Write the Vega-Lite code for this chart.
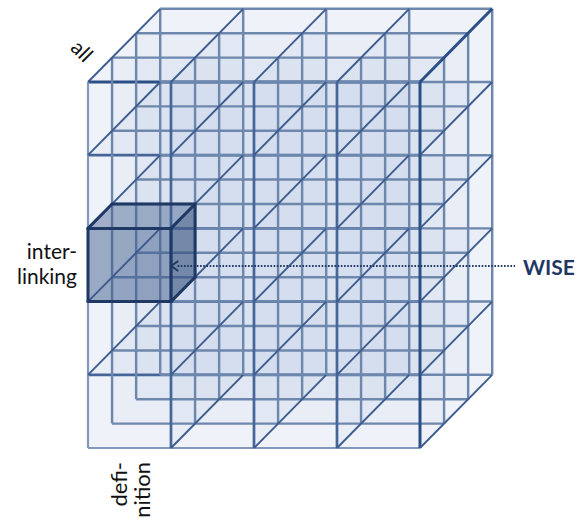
{
  "$schema": "https://vega.github.io/schema/vega-lite/v6.json",
  "width": 577,
  "height": 518,
  "autosize": {"type": "none"},
  "padding": 0,
  "background": "white",
  "config": {"view": {"stroke": null}},
  "datasets": {
    "planesXY": [
      {"p": "k0", "x": 0, "x2": 4, "y": 0, "y2": 5},
      {"p": "k1", "x": 0.29, "x2": 4.29, "y": 0.333, "y2": 5.333},
      {"p": "k2", "x": 0.58, "x2": 4.58, "y": 0.667, "y2": 5.667},
      {"p": "k3", "x": 0.87, "x2": 4.87, "y": 1, "y2": 6}
    ],
    "planesYZ": [
      {"p": "i0", "x": 0, "y": 0, "y2": 5}, {"p": "i0", "x": 0.87, "y": 1, "y2": 6},
      {"p": "i1", "x": 1, "y": 0, "y2": 5}, {"p": "i1", "x": 1.87, "y": 1, "y2": 6},
      {"p": "i2", "x": 2, "y": 0, "y2": 5}, {"p": "i2", "x": 2.87, "y": 1, "y2": 6},
      {"p": "i3", "x": 3, "y": 0, "y2": 5}, {"p": "i3", "x": 3.87, "y": 1, "y2": 6},
      {"p": "i4", "x": 4, "y": 0, "y2": 5}, {"p": "i4", "x": 4.87, "y": 1, "y2": 6}
    ],
    "planesXZ": [
      {"p": "j0", "y": 0, "x": 0, "x2": 4}, {"p": "j0", "y": 1, "x": 0.87, "x2": 4.87},
      {"p": "j1", "y": 1, "x": 0, "x2": 4}, {"p": "j1", "y": 2, "x": 0.87, "x2": 4.87},
      {"p": "j2", "y": 2, "x": 0, "x2": 4}, {"p": "j2", "y": 3, "x": 0.87, "x2": 4.87},
      {"p": "j3", "y": 3, "x": 0, "x2": 4}, {"p": "j3", "y": 4, "x": 0.87, "x2": 4.87},
      {"p": "j4", "y": 4, "x": 0, "x2": 4}, {"p": "j4", "y": 5, "x": 0.87, "x2": 4.87},
      {"p": "j5", "y": 5, "x": 0, "x2": 4}, {"p": "j5", "y": 6, "x": 0.87, "x2": 4.87}
    ],
    "lines": [
      {"x": 0, "x2": 4, "y": 0, "y2": 0, "kind": "light"},
      {"x": 0, "x2": 4, "y": 1, "y2": 1, "kind": "front"},
      {"x": 0, "x2": 4, "y": 2, "y2": 2, "kind": "front"},
      {"x": 0, "x2": 4, "y": 3, "y2": 3, "kind": "front"},
      {"x": 0, "x2": 4, "y": 4, "y2": 4, "kind": "front"},
      {"x": 0, "x2": 4, "y": 5, "y2": 5, "kind": "strong"},
      {"x": 0.29, "x2": 4.29, "y": 0.333, "y2": 0.333, "kind": "back"},
      {"x": 0.29, "x2": 4.29, "y": 1.333, "y2": 1.333, "kind": "back"},
      {"x": 0.29, "x2": 4.29, "y": 2.333, "y2": 2.333, "kind": "back"},
      {"x": 0.29, "x2": 4.29, "y": 3.333, "y2": 3.333, "kind": "back"},
      {"x": 0.29, "x2": 4.29, "y": 4.333, "y2": 4.333, "kind": "back"},
      {"x": 0.29, "x2": 4.29, "y": 5.333, "y2": 5.333, "kind": "back"},
      {"x": 0.58, "x2": 4.58, "y": 0.667, "y2": 0.667, "kind": "back"},
      {"x": 0.58, "x2": 4.58, "y": 1.667, "y2": 1.667, "kind": "back"},
      {"x": 0.58, "x2": 4.58, "y": 2.667, "y2": 2.667, "kind": "back"},
      {"x": 0.58, "x2": 4.58, "y": 3.667, "y2": 3.667, "kind": "back"},
      {"x": 0.58, "x2": 4.58, "y": 4.667, "y2": 4.667, "kind": "back"},
      {"x": 0.58, "x2": 4.58, "y": 5.667, "y2": 5.667, "kind": "back"},
      {"x": 0.87, "x2": 4.87, "y": 1, "y2": 1, "kind": "back"},
      {"x": 0.87, "x2": 4.87, "y": 2, "y2": 2, "kind": "back"},
      {"x": 0.87, "x2": 4.87, "y": 3, "y2": 3, "kind": "back"},
      {"x": 0.87, "x2": 4.87, "y": 4, "y2": 4, "kind": "back"},
      {"x": 0.87, "x2": 4.87, "y": 5, "y2": 5, "kind": "back"},
      {"x": 0.87, "x2": 4.87, "y": 6, "y2": 6, "kind": "back"},
      {"x": 0, "x2": 0, "y": 0, "y2": 5, "kind": "light"},
      {"x": 1, "x2": 1, "y": 0, "y2": 5, "kind": "front"},
      {"x": 2, "x2": 2, "y": 0, "y2": 5, "kind": "front"},
      {"x": 3, "x2": 3, "y": 0, "y2": 5, "kind": "front"},
      {"x": 4, "x2": 4, "y": 0, "y2": 5, "kind": "strong"},
      {"x": 0.29, "x2": 0.29, "y": 0.333, "y2": 5.333, "kind": "back"},
      {"x": 1.29, "x2": 1.29, "y": 0.333, "y2": 5.333, "kind": "back"},
      {"x": 2.29, "x2": 2.29, "y": 0.333, "y2": 5.333, "kind": "back"},
      {"x": 3.29, "x2": 3.29, "y": 0.333, "y2": 5.333, "kind": "back"},
      {"x": 4.29, "x2": 4.29, "y": 0.333, "y2": 5.333, "kind": "back"},
      {"x": 0.58, "x2": 0.58, "y": 0.667, "y2": 5.667, "kind": "back"},
      {"x": 1.58, "x2": 1.58, "y": 0.667, "y2": 5.667, "kind": "back"},
      {"x": 2.58, "x2": 2.58, "y": 0.667, "y2": 5.667, "kind": "back"},
      {"x": 3.58, "x2": 3.58, "y": 0.667, "y2": 5.667, "kind": "back"},
      {"x": 4.58, "x2": 4.58, "y": 0.667, "y2": 5.667, "kind": "back"},
      {"x": 0.87, "x2": 0.87, "y": 1, "y2": 6, "kind": "back"},
      {"x": 1.87, "x2": 1.87, "y": 1, "y2": 6, "kind": "back"},
      {"x": 2.87, "x2": 2.87, "y": 1, "y2": 6, "kind": "back"},
      {"x": 3.87, "x2": 3.87, "y": 1, "y2": 6, "kind": "back"},
      {"x": 4.87, "x2": 4.87, "y": 1, "y2": 6, "kind": "back"},
      {"x": 0, "x2": 0.87, "y": 1, "y2": 2, "kind": "depth"},
      {"x": 0, "x2": 0.87, "y": 2, "y2": 3, "kind": "depth"},
      {"x": 0, "x2": 0.87, "y": 3, "y2": 4, "kind": "depth"},
      {"x": 0, "x2": 0.87, "y": 4, "y2": 5, "kind": "depth"},
      {"x": 0, "x2": 0.87, "y": 5, "y2": 6, "kind": "depth"},
      {"x": 1, "x2": 1.87, "y": 0, "y2": 1, "kind": "depth"},
      {"x": 1, "x2": 1.87, "y": 1, "y2": 2, "kind": "depth"},
      {"x": 1, "x2": 1.87, "y": 2, "y2": 3, "kind": "depth"},
      {"x": 1, "x2": 1.87, "y": 3, "y2": 4, "kind": "depth"},
      {"x": 1, "x2": 1.87, "y": 4, "y2": 5, "kind": "depth"},
      {"x": 1, "x2": 1.87, "y": 5, "y2": 6, "kind": "depth"},
      {"x": 2, "x2": 2.87, "y": 0, "y2": 1, "kind": "depth"},
      {"x": 2, "x2": 2.87, "y": 1, "y2": 2, "kind": "depth"},
      {"x": 2, "x2": 2.87, "y": 2, "y2": 3, "kind": "depth"},
      {"x": 2, "x2": 2.87, "y": 3, "y2": 4, "kind": "depth"},
      {"x": 2, "x2": 2.87, "y": 4, "y2": 5, "kind": "depth"},
      {"x": 2, "x2": 2.87, "y": 5, "y2": 6, "kind": "depth"},
      {"x": 3, "x2": 3.87, "y": 0, "y2": 1, "kind": "depth"},
      {"x": 3, "x2": 3.87, "y": 1, "y2": 2, "kind": "depth"},
      {"x": 3, "x2": 3.87, "y": 2, "y2": 3, "kind": "depth"},
      {"x": 3, "x2": 3.87, "y": 3, "y2": 4, "kind": "depth"},
      {"x": 3, "x2": 3.87, "y": 4, "y2": 5, "kind": "depth"},
      {"x": 3, "x2": 3.87, "y": 5, "y2": 6, "kind": "depth"},
      {"x": 4, "x2": 4.87, "y": 0, "y2": 1, "kind": "depth"},
      {"x": 4, "x2": 4.87, "y": 1, "y2": 2, "kind": "depth"},
      {"x": 4, "x2": 4.87, "y": 2, "y2": 3, "kind": "depth"},
      {"x": 4, "x2": 4.87, "y": 3, "y2": 4, "kind": "depth"},
      {"x": 4, "x2": 4.87, "y": 4, "y2": 5, "kind": "depth"},
      {"x": 4, "x2": 4.87, "y": 5, "y2": 6, "kind": "strong"}
    ],
    "cubeFront": [{"x": 0, "x2": 1, "y": 2, "y2": 3}],
    "cubeTop": [{"y": 3, "x": 0, "x2": 1}, {"y": 3.333, "x": 0.29, "x2": 1.29}],
    "cubeRight": [{"x": 1, "y": 2, "y2": 3}, {"x": 1.29, "y": 2.333, "y2": 3.333}],
    "cubeEdges": [
      {"x": 0, "x2": 1, "y": 2, "y2": 2},
      {"x": 1, "x2": 1, "y": 2, "y2": 3},
      {"x": 0, "x2": 1, "y": 3, "y2": 3},
      {"x": 0, "x2": 0, "y": 2, "y2": 3},
      {"x": 0, "x2": 0.29, "y": 3, "y2": 3.333},
      {"x": 1, "x2": 1.29, "y": 3, "y2": 3.333},
      {"x": 1, "x2": 1.29, "y": 2, "y2": 2.333},
      {"x": 0.29, "x2": 1.29, "y": 3.333, "y2": 3.333},
      {"x": 1.29, "x2": 1.29, "y": 2.333, "y2": 3.333}
    ],
    "arrowLine": [{"x": 1.08, "x2": 5.145, "y": 2.486, "y2": 2.486}],
    "arrowHead": [{"x": 1.045, "y": 2.486}],
    "labelsH": [
      {"t": "inter-", "x": -0.1325, "y": 2.582},
      {"t": "linking", "x": -0.1325, "y": 2.24}
    ],
    "labelAll": [{"t": "all", "x": -0.084, "y": 5.41}],
    "labelsV": [
      {"t": "defi-", "x": 0.47, "y": -0.191},
      {"t": "nition", "x": 0.747, "y": -0.191}
    ],
    "labelWise": [{"t": "WISE", "x": 5.867, "y": 2.363}]
  },
  "layer": [
    {
      "data": {"name": "planesXY"},
      "mark": {"type": "rect", "fill": "#8aa1cc", "fillOpacity": 0.065, "strokeWidth": 0},
      "encoding": {
        "x": {"field": "x", "type": "quantitative", "scale": {"domain": [-1.0602, 5.8916], "nice": false, "zero": false}, "axis": null},
        "x2": {"field": "x2"},
        "y": {"field": "y", "type": "quantitative", "scale": {"domain": [-0.9563, 6.1202], "nice": false, "zero": false}, "axis": null},
        "y2": {"field": "y2"}
      }
    },
    {
      "data": {"name": "planesYZ"},
      "mark": {"type": "area", "fill": "#8aa1cc", "fillOpacity": 0.065, "orient": "vertical"},
      "encoding": {
        "x": {"field": "x", "type": "quantitative", "scale": {"domain": [-1.0602, 5.8916], "nice": false, "zero": false}, "axis": null},
        "y": {"field": "y", "type": "quantitative", "scale": {"domain": [-0.9563, 6.1202], "nice": false, "zero": false}, "axis": null},
        "y2": {"field": "y2"},
        "detail": {"field": "p", "type": "nominal"}
      }
    },
    {
      "data": {"name": "planesXZ"},
      "mark": {"type": "area", "fill": "#8aa1cc", "fillOpacity": 0.065, "orient": "horizontal"},
      "encoding": {
        "y": {"field": "y", "type": "quantitative", "scale": {"domain": [-0.9563, 6.1202], "nice": false, "zero": false}, "axis": null},
        "x": {"field": "x", "type": "quantitative", "scale": {"domain": [-1.0602, 5.8916], "nice": false, "zero": false}, "axis": null},
        "x2": {"field": "x2"},
        "detail": {"field": "p", "type": "nominal"}
      }
    },
    {
      "data": {"name": "lines"},
      "mark": {"type": "rule", "strokeCap": "butt"},
      "encoding": {
        "x": {"field": "x", "type": "quantitative", "scale": {"domain": [-1.0602, 5.8916], "nice": false, "zero": false}, "axis": null},
        "x2": {"field": "x2"},
        "y": {"field": "y", "type": "quantitative", "scale": {"domain": [-0.9563, 6.1202], "nice": false, "zero": false}, "axis": null},
        "y2": {"field": "y2"},
        "color": {"field": "kind", "type": "nominal", "scale": {"domain": ["strong", "front", "back", "light", "depth"], "range": ["#2a4e86", "#46669a", "#6e87ad", "#8297b9", "#3d5c8e"]}, "legend": null},
        "size": {"field": "kind", "type": "ordinal", "scale": {"domain": ["strong", "front", "back", "light", "depth"], "range": [3, 1.9, 1.5, 1.5, 1]}, "legend": null}
      }
    },
    {
      "data": {"name": "cubeFront"},
      "mark": {"type": "rect", "fill": "#3d5a8a", "fillOpacity": 0.48, "strokeWidth": 0},
      "encoding": {
        "x": {"field": "x", "type": "quantitative", "scale": {"domain": [-1.0602, 5.8916], "nice": false, "zero": false}, "axis": null},
        "x2": {"field": "x2"},
        "y": {"field": "y", "type": "quantitative", "scale": {"domain": [-0.9563, 6.1202], "nice": false, "zero": false}, "axis": null},
        "y2": {"field": "y2"}
      }
    },
    {
      "data": {"name": "cubeTop"},
      "mark": {"type": "area", "fill": "#3d5a8a", "fillOpacity": 0.42, "orient": "horizontal"},
      "encoding": {
        "y": {"field": "y", "type": "quantitative", "scale": {"domain": [-0.9563, 6.1202], "nice": false, "zero": false}, "axis": null},
        "x": {"field": "x", "type": "quantitative", "scale": {"domain": [-1.0602, 5.8916], "nice": false, "zero": false}, "axis": null},
        "x2": {"field": "x2"}
      }
    },
    {
      "data": {"name": "cubeRight"},
      "mark": {"type": "area", "fill": "#2f4a78", "fillOpacity": 0.58, "orient": "vertical"},
      "encoding": {
        "x": {"field": "x", "type": "quantitative", "scale": {"domain": [-1.0602, 5.8916], "nice": false, "zero": false}, "axis": null},
        "y": {"field": "y", "type": "quantitative", "scale": {"domain": [-0.9563, 6.1202], "nice": false, "zero": false}, "axis": null},
        "y2": {"field": "y2"}
      }
    },
    {
      "data": {"name": "cubeEdges"},
      "mark": {"type": "rule", "color": "#1f3864", "strokeWidth": 3, "strokeCap": "round"},
      "encoding": {
        "x": {"field": "x", "type": "quantitative", "scale": {"domain": [-1.0602, 5.8916], "nice": false, "zero": false}, "axis": null},
        "x2": {"field": "x2"},
        "y": {"field": "y", "type": "quantitative", "scale": {"domain": [-0.9563, 6.1202], "nice": false, "zero": false}, "axis": null},
        "y2": {"field": "y2"}
      }
    },
    {
      "data": {"name": "arrowLine"},
      "mark": {"type": "rule", "color": "#1f3864", "strokeWidth": 2, "strokeDash": [1.6, 1.6]},
      "encoding": {
        "x": {"field": "x", "type": "quantitative", "scale": {"domain": [-1.0602, 5.8916], "nice": false, "zero": false}, "axis": null},
        "x2": {"field": "x2"},
        "y": {"field": "y", "type": "quantitative", "scale": {"domain": [-0.9563, 6.1202], "nice": false, "zero": false}, "axis": null},
        "y2": {"field": "y2"}
      }
    },
    {
      "data": {"name": "arrowHead"},
      "mark": {"type": "point", "shape": "M0.7,-1L-0.7,0L0.7,1", "size": 100, "filled": false, "stroke": "#1f3864", "strokeWidth": 2, "opacity": 1},
      "encoding": {
        "x": {"field": "x", "type": "quantitative", "scale": {"domain": [-1.0602, 5.8916], "nice": false, "zero": false}, "axis": null},
        "y": {"field": "y", "type": "quantitative", "scale": {"domain": [-0.9563, 6.1202], "nice": false, "zero": false}, "axis": null}
      }
    },
    {
      "data": {"name": "labelsH"},
      "mark": {"type": "text", "font": "Lato", "fontSize": 21, "align": "right", "baseline": "alphabetic", "color": "#111111"},
      "encoding": {
        "x": {"field": "x", "type": "quantitative", "scale": {"domain": [-1.0602, 5.8916], "nice": false, "zero": false}, "axis": null},
        "y": {"field": "y", "type": "quantitative", "scale": {"domain": [-0.9563, 6.1202], "nice": false, "zero": false}, "axis": null},
        "text": {"field": "t"}
      }
    },
    {
      "data": {"name": "labelAll"},
      "mark": {"type": "text", "font": "Lato", "fontSize": 21, "align": "center", "baseline": "middle", "angle": 45, "color": "#111111"},
      "encoding": {
        "x": {"field": "x", "type": "quantitative", "scale": {"domain": [-1.0602, 5.8916], "nice": false, "zero": false}, "axis": null},
        "y": {"field": "y", "type": "quantitative", "scale": {"domain": [-0.9563, 6.1202], "nice": false, "zero": false}, "axis": null},
        "text": {"field": "t"}
      }
    },
    {
      "data": {"name": "labelsV"},
      "mark": {"type": "text", "font": "Lato", "fontSize": 22, "align": "right", "baseline": "alphabetic", "angle": 270, "color": "#111111"},
      "encoding": {
        "x": {"field": "x", "type": "quantitative", "scale": {"domain": [-1.0602, 5.8916], "nice": false, "zero": false}, "axis": null},
        "y": {"field": "y", "type": "quantitative", "scale": {"domain": [-0.9563, 6.1202], "nice": false, "zero": false}, "axis": null},
        "text": {"field": "t"}
      }
    },
    {
      "data": {"name": "labelWise"},
      "mark": {"type": "text", "font": "Lato", "fontSize": 21, "fontWeight": "bold", "align": "right", "baseline": "alphabetic", "color": "#1f3864"},
      "encoding": {
        "x": {"field": "x", "type": "quantitative", "scale": {"domain": [-1.0602, 5.8916], "nice": false, "zero": false}, "axis": null},
        "y": {"field": "y", "type": "quantitative", "scale": {"domain": [-0.9563, 6.1202], "nice": false, "zero": false}, "axis": null},
        "text": {"field": "t"}
      }
    }
  ]
}
